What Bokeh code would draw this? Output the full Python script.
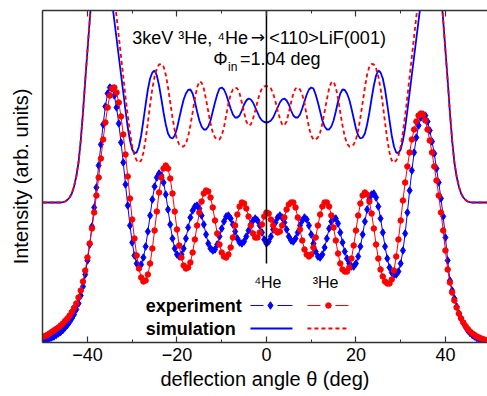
from bokeh.plotting import figure
from bokeh.models import Range1d, LinearAxis, SingleIntervalTicker, FixedTicker, CustomJSTickFormatter
from bokeh.core.properties import value
from bokeh.embed import file_html
from bokeh.resources import INLINE

# deflection angle grid (deg), 0.5 deg steps from -50 to 50
theta = [round(-50 + 0.5 * i, 1) for i in range(201)]

# experiment, 4He (blue diamonds)
exp_4he = [
    2, 2.5, 3, 4, 5, 6, 7.5, 9, 10.5, 12.5,
    15, 17.5, 20.5, 24, 28, 33, 39, 47, 56, 68,
    82, 98, 116, 135, 155, 177, 198, 218, 236, 249,
    255, 254, 247, 235, 219, 200, 180, 158, 137, 117,
    100, 87, 79, 76, 78, 85, 96, 111, 127, 143,
    156, 165, 169, 167, 160, 148, 133, 118, 104, 94,
    88, 86, 88, 94, 104, 115, 125, 132, 136, 137,
    134, 127, 118, 108, 99, 94, 92, 93, 98, 106,
    114, 121, 126, 127, 124, 118, 111, 104, 100, 99,
    101, 106, 112, 118, 122, 124, 122, 117, 110, 103,
    99,
    101, 106, 113, 120, 125, 127, 125, 120, 113, 106,
    102, 101, 104, 110, 117, 122, 125, 123, 117, 108,
    99, 91, 86, 85, 88, 95, 104, 114, 121, 124,
    124, 119, 110, 100, 91, 84, 79, 76, 76, 79,
    86, 96, 108, 121, 133, 143, 148, 149, 145, 136,
    124, 110, 96, 84, 75, 70, 68, 68, 71, 79,
    92, 109, 130, 152, 172, 190, 205, 217, 225, 228,
    227, 221, 212, 201, 189, 174, 160, 144, 126, 105,
    82, 62, 52, 44, 36, 29, 24, 19.5, 15.5, 12,
    9.5, 7.5, 6, 4.5, 3.5, 2.5, 1.5, 1, 0.8, 0.5,
]

# experiment, 3He (red circles)
exp_3he = [
    5.5, 6.5, 7.5, 9, 10.5, 12, 13.5, 15, 17, 19,
    21.5, 24, 27, 30.5, 34.5, 39, 45, 52, 61, 72,
    85, 99, 114, 130, 147, 165, 184, 203, 220, 235,
    247, 254, 255, 250, 240, 226, 208, 188, 166, 144,
    123, 104, 87, 74, 65, 61, 62, 68, 79, 94,
    112, 131, 150, 165, 174, 177, 174, 164, 149, 131,
    113, 97, 85, 77, 74, 75, 80, 90, 103, 117,
    130, 141, 149, 152, 151, 145, 135, 122, 109, 98,
    90, 86, 85, 88, 95, 105, 117, 128, 136, 140,
    139, 134, 126, 117, 109, 105, 105, 110, 118, 126,
    130,
    129, 123, 117, 112, 110, 111, 117, 125, 133, 138,
    140, 140, 135, 125, 113, 102, 93, 88, 86, 88,
    95, 105, 117, 128, 136, 140, 140, 136, 127, 115,
    102, 89, 79, 73, 71, 71, 75, 84, 97, 112,
    127, 139, 147, 150, 148, 141, 129, 114, 98, 84,
    73, 66, 61, 59, 59, 63, 72, 86, 103, 122,
    142, 160, 176, 190, 203, 213, 221, 227, 229, 228,
    222, 213, 202, 190, 176, 162, 147, 130, 112, 92,
    73, 60, 50, 42, 35, 29, 24, 20, 16.5, 13.5,
    11, 9, 7.5, 6, 5, 4, 3.2, 2.5, 2, 1.5,
]

# simulation, 4He (solid blue), offset upward
sim_4he = [
    140, 140, 140, 140, 140, 140, 140, 140, 140, 140.3,
    141, 142.5, 145, 149, 156, 166, 180, 202, 230, 262,
    292, 322, 350, 374, 392, 404, 408, 404, 392, 376,
    358, 340, 322, 304, 286, 268, 250, 232, 215, 202,
    193, 189.5, 190, 196, 207, 222, 238, 253, 264, 270,
    272, 267, 257, 244, 230, 218, 209, 205, 204, 207,
    214, 224, 234, 243, 249, 252.5, 253, 249, 241, 231,
    222, 216, 213, 213, 216, 222, 231, 240, 248, 254,
    255, 253, 248, 241, 234, 228, 225, 225, 227, 232,
    238, 242, 244, 243, 240, 235, 230, 225, 222, 220.5,
    220,
    220.5, 222, 225, 230, 235, 240, 243, 244, 242, 238,
    232, 227, 225, 225, 228, 234, 241, 248, 253, 255,
    254, 248, 240, 231, 222, 216, 213, 213, 216, 222,
    231, 241, 249, 253, 252.5, 249, 243, 234, 224, 214,
    207, 204, 205, 209, 218, 230, 244, 257, 267, 272,
    270, 264, 253, 238, 222, 207, 196, 190, 189.5, 193,
    202, 215, 232, 250, 268, 286, 304, 322, 340, 358,
    376, 392, 404, 408, 404, 392, 374, 350, 322, 292,
    262, 230, 202, 180, 166, 156, 149, 145, 142.5, 141,
    140.3, 140, 140, 140, 140, 140, 140, 140, 140, 140,
]

# simulation, 3He (dashed red), offset upward
sim_3he = [
    140, 140, 140, 140, 140, 140, 140, 140, 140, 140.3,
    141, 142.5, 145, 149, 156, 166, 180, 202, 230, 262,
    292, 322, 350, 376, 397, 412, 420, 420, 412, 398,
    382, 364, 345, 326, 306, 286, 266, 246, 227, 210,
    196, 187, 182, 180, 182, 190, 203, 220, 238, 254,
    266, 274, 278, 278.5, 276, 268, 255, 240, 225, 212,
    203, 198, 196, 196, 199, 206, 217, 230, 244, 255,
    261, 260, 254, 243, 231, 219, 210, 205, 203, 203,
    207, 215, 227, 239, 248, 253, 255, 254, 249, 240,
    230, 221, 217, 218, 224, 232, 241, 249, 254, 256,
    256.5,
    256, 254, 249, 241, 232, 224, 218, 217, 221, 230,
    240, 249, 254, 255, 253, 248, 239, 227, 215, 207,
    203, 203, 205, 210, 219, 231, 243, 254, 260, 261,
    255, 244, 230, 217, 206, 199, 196, 196, 198, 203,
    212, 225, 240, 255, 268, 276, 278.5, 278, 274, 266,
    254, 238, 220, 203, 190, 182, 180, 182, 187, 196,
    210, 227, 246, 266, 286, 306, 326, 345, 364, 382,
    398, 412, 420, 420, 412, 397, 376, 350, 322, 292,
    262, 230, 202, 180, 166, 156, 149, 145, 142.5, 141,
    140.3, 140, 140, 140, 140, 140, 140, 140, 140, 140,
]

for arr in (exp_4he, exp_3he, sim_4he, sim_3he):
    assert len(arr) == len(theta), len(arr)

BLUE = "#0000ff"
RED = "#ff0000"
FONT = "Liberation Sans"

p = figure(width=487, height=396, output_backend="svg", toolbar_location=None,
           x_range=Range1d(-50.05, 49.4), y_range=Range1d(0, 332),
           x_axis_location=None, y_axis_location=None,
           min_border_left=42, min_border_right=0, min_border_top=10,
           min_border_bottom=54)
p.outline_line_color = None
p.grid.visible = False
p.background_fill_color = "white"
p.border_fill_color = "white"

# axes
xb = LinearAxis(ticker=SingleIntervalTicker(interval=20, num_minor_ticks=2),
                axis_label="deflection angle θ (deg)")
xt = LinearAxis(ticker=SingleIntervalTicker(interval=20, num_minor_ticks=2),
                formatter=CustomJSTickFormatter(code="return ''"))
yl = LinearAxis(ticker=FixedTicker(ticks=[]), axis_label="Intensity (arb. units)")
for ax in (xb, xt, yl):
    ax.axis_line_color = "#333333"
    ax.axis_line_width = 1.5
    ax.major_tick_line_color = "#333333"
    ax.minor_tick_line_color = "#333333"
    ax.major_tick_line_width = 1.2
    ax.minor_tick_line_width = 1.0
    ax.major_tick_in = 6
    ax.major_tick_out = 0
    ax.minor_tick_in = 3
    ax.minor_tick_out = 0
    ax.major_label_text_font = FONT
    ax.axis_label_text_font = FONT
    ax.axis_label_text_font_style = "normal"
    ax.axis_label_text_color = "black"
    ax.major_label_text_color = "black"
xb.major_label_text_font_size = "18px"
xb.major_label_standoff = 5
xb.axis_label_text_font_size = "20px"
xb.axis_label_standoff = 4
xt.major_label_standoff = 0
yl.major_label_standoff = 0
yl.axis_label_text_font_size = "20px"
yl.axis_label_standoff = 11
p.add_layout(xb, "below")
p.add_layout(xt, "above")
p.add_layout(yl, "left")

# simulation curves
p.line(theta, sim_4he, line_color=BLUE, line_width=1.8)
p.line(theta, sim_3he, line_color=RED, line_width=1.8, line_dash="4 3")

# experiment curves
p.line(theta, exp_4he, line_color=BLUE, line_width=1)
p.scatter(theta, exp_4he, marker="diamond", size=7.5, fill_color=BLUE, line_color=BLUE)
p.line(theta, exp_3he, line_color=RED, line_width=1)
p.scatter(theta, exp_3he, marker="circle", size=5.5, fill_color=RED, line_color=RED)

# vertical reference line at theta = 0
ZERO_LINE = {"x": 0, "y0": 79, "y1": 332}
p.segment(x0=[ZERO_LINE["x"]], y0=[ZERO_LINE["y0"]], x1=[ZERO_LINE["x"]], y1=[ZERO_LINE["y1"]],
          line_color="black", line_width=1.5)

def txt(x, y, s, size, align="center", style="normal", color="black", font=FONT):
    p.text(x=[x], y=[y], text=[s], text_font=value(font), text_font_size=value(size),
           text_align=align, text_baseline="middle", text_font_style=style,
           text_color=color)

# annotations
txt(-4.1, 305, "3keV ³He, ⁴He", "18px", align="right")
txt(-1.9, 306, "→", "17px", font="DejaVu Sans")
txt(0.6, 305, "<110>LiF(001)", "18px", align="left")
txt(-8.7, 284, "Φ", "18px", align="right")
txt(-8.6, 276, "in", "12px", align="left")
txt(-5.9, 284, "=1.04 deg", "18px", align="left")
txt(0.3, 60, "⁴He", "16px")
txt(13.2, 60, "³He", "16px")

# legend
LEG_Y_EXP, LEG_Y_SIM = 37, 14
LEG_LABEL_X = -27.0
LEG_4HE = (-3.58, -0.67, 0.9, 2.46, 5.81)
LEG_3HE = (9.16, 12.07, 13.85, 15.42, 18.32)
txt(LEG_LABEL_X, LEG_Y_EXP, "experiment", "18px", align="left", style="bold")
txt(LEG_LABEL_X, LEG_Y_SIM, "simulation", "18px", align="left", style="bold")
for leg, col, mk, sz in ((LEG_4HE, BLUE, "diamond", 7.5), (LEG_3HE, RED, "circle", 5.5)):
    p.multi_line([[leg[0], leg[1]], [leg[3], leg[4]]], [[LEG_Y_EXP, LEG_Y_EXP], [LEG_Y_EXP, LEG_Y_EXP]],
                 line_color=col, line_width=1)
    p.scatter([leg[2]], [LEG_Y_EXP], marker=mk, size=sz, color=col)
p.line([LEG_4HE[0], LEG_4HE[4]], [LEG_Y_SIM, LEG_Y_SIM], line_color=BLUE, line_width=1.8)
p.line([LEG_3HE[0], LEG_3HE[4]], [LEG_Y_SIM, LEG_Y_SIM], line_color=RED, line_width=1.8, line_dash="4 3")

open("out.html", "w").write(file_html(p, INLINE))
